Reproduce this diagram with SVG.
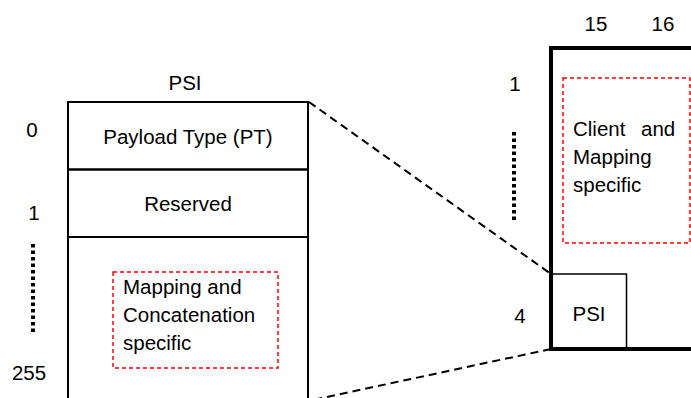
<svg xmlns="http://www.w3.org/2000/svg" width="691" height="398" viewBox="0 0 691 398">
<style>
text{font-family:"Liberation Sans",Arial,sans-serif;font-size:20.5px;fill:#000}
.c{text-anchor:middle}
.box{fill:none;stroke:#000}
.red{fill:none;stroke:#ff0000;stroke-width:1.5;stroke-dasharray:4 3}
.dots{fill:none;stroke:#000;stroke-width:4;stroke-dasharray:3.5 3}
.lead{fill:none;stroke:#000;stroke-width:2;stroke-dasharray:8 5}
</style>
<rect width="691" height="398" fill="#fff"/>
<g id="psi-table">
<text class="c" x="185" y="90">PSI</text>
<line class="box" x1="68" y1="102" x2="308" y2="102" stroke-width="2"/>
<line class="box" x1="68" y1="101" x2="68" y2="398" stroke-width="2"/>
<line class="box" x1="308" y1="101" x2="308" y2="398" stroke-width="2"/>
<line class="box" x1="68" y1="169.5" x2="308" y2="169.5" stroke-width="2.5"/>
<line class="box" x1="68" y1="237" x2="308" y2="237" stroke-width="2"/>
<text class="c" x="188" y="144">Payload Type (PT)</text>
<text class="c" x="188" y="211">Reserved</text>
</g>
<g id="mapping-concat">
<rect class="red" x="113" y="272" width="165" height="96"/>
<text x="123" y="294">Mapping and</text>
<text x="123" y="322">Concatenation</text>
<text x="123" y="350">specific</text>
</g>
<g id="left-index">
<text class="c" x="32" y="137">0</text>
<text class="c" x="34" y="220">1</text>
<line class="dots" x1="33" y1="244" x2="33" y2="335"/>
<text class="c" x="29" y="380">255</text>
</g>
<g id="frame">
<text class="c" x="596" y="31">15</text>
<text class="c" x="663" y="31">16</text>
<polyline fill="none" stroke="#000" stroke-width="4" points="691,48 551,48 551,349 691,349"/>
<text class="c" x="515" y="91">1</text>
<line class="dots" x1="514" y1="132" x2="514" y2="222"/>
<text class="c" x="520" y="323">4</text>
</g>
<g id="client-mapping">
<rect class="red" x="563" y="78" width="127" height="165"/>
<text x="573" y="136">Client <tspan x="641">and</tspan></text>
<text x="573" y="164">Mapping</text>
<text x="573" y="192">specific</text>
</g>
<g id="psi-cell">
<rect class="box" x="551" y="274" width="75.5" height="75" stroke-width="1.5"/>
<text class="c" x="589" y="321">PSI</text>
</g>
<g id="connectors">
<line class="lead" x1="309" y1="102" x2="551" y2="274"/>
<line class="lead" x1="551" y1="349" x2="308" y2="401"/>
</g>
</svg>
